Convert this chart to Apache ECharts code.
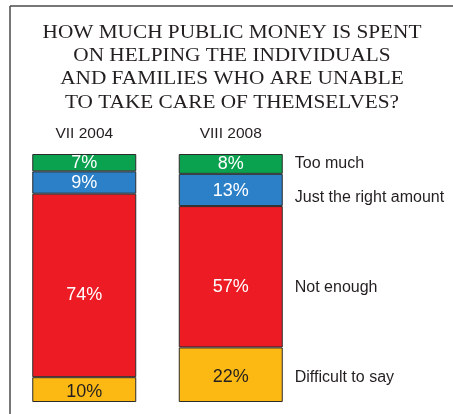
<!DOCTYPE html>
<html>
<head>
<meta charset="utf-8">
<style>
  html, body { margin: 0; padding: 0; background: #fff; }
  #chart { width: 453px; height: 414px; }
</style>
<script src="https://cdn.jsdelivr.net/npm/echarts@6/dist/echarts.min.js"></script>
</head>
<body>
<div id="chart"></div>
<script>
// Survey periods (one stacked bar each)
const periods = ['VII 2004', 'VIII 2008'];

// Answer shares, in percent, bottom to top of each bar
const difficultToSay = [10, 22];
const notEnough      = [74, 57];
const justRight      = [9, 13];
const tooMuch        = [7, 8];

// Answer names shown beside the second bar
const answerNames = ['Difficult to say', 'Not enough', 'Just the right amount', 'Too much'];

const titleLines = [
  'HOW MUCH PUBLIC MONEY IS SPENT',
  'ON HELPING THE INDIVIDUALS',
  'AND FAMILIES WHO ARE UNABLE',
  'TO TAKE CARE OF THEMSELVES?'
];

const INK = '#231f20';
const SANS = '"Liberation Sans", Arial, sans-serif';

function layer(name, data, color, textColor, labelOffset) {
  return {
    name: name,
    type: 'bar',
    stack: 'total',
    barWidth: 104,
    data: data,
    itemStyle: { color: color, borderColor: '#2b2b2b', borderWidth: 1 },
    label: {
      show: true,
      position: 'inside',
      offset: labelOffset,
      formatter: '{c}%',
      color: textColor,
      fontFamily: SANS,
      fontSize: 18
    },
    emphasis: { disabled: true },
    animation: false
  };
}

const series = [
  layer('Difficult to say', difficultToSay, '#fdb913', INK, [0, 2]),
  layer('Not enough', notEnough, '#ed1c24', '#ffffff', [0, 10]),
  layer('Just the right amount', justRight, '#2b80c8', '#ffffff', [0, 1]),
  layer('Too much', tooMuch, '#0aa24f', '#ffffff', [0, 0])
];

const chart = echarts.init(document.getElementById('chart'), null, { renderer: 'canvas' });

chart.setOption({
  animation: false,
  backgroundColor: '#ffffff',
  grid: { left: 11, top: 154, width: 293, height: 248, containLabel: false },
  xAxis: {
    type: 'category',
    data: periods,
    position: 'top',
    axisLine: { show: false },
    axisTick: { show: false },
    axisLabel: { color: INK, fontFamily: SANS, fontSize: 15.5, margin: 12 }
  },
  yAxis: {
    type: 'value',
    min: 0,
    max: 100,
    show: false,
    splitLine: { show: false }
  },
  series: series
});

// Answer names, placed beside each segment of the last bar
const lastPeriod = periods[periods.length - 1];
const layers = [difficultToSay, notEnough, justRight, tooMuch];
const nameOffsets = [3, 11, 8, 0];
let base = 0;
const nameTexts = layers.map(function (vals, i) {
  const v = vals[periods.length - 1];
  const mid = base + v / 2;
  base += v;
  const p = chart.convertToPixel({ xAxisIndex: 0, yAxisIndex: 0 }, [lastPeriod, mid]);
  return {
    type: 'text',
    x: p[0] + 52 + 12,
    y: p[1] + nameOffsets[i],
    style: {
      text: answerNames[i],
      fill: INK,
      font: '16px ' + SANS,
      verticalAlign: 'middle',
      align: 'left'
    }
  };
});

chart.setOption({
  graphic: [
    // frame: top and left rules
    { type: 'line', shape: { x1: 10, y1: 6, x2: 453, y2: 6 }, style: { stroke: '#4a4a4a', lineWidth: 1.5 } },
    { type: 'line', shape: { x1: 10, y1: 6, x2: 10, y2: 414 }, style: { stroke: '#4a4a4a', lineWidth: 1.5 } },
    {
      type: 'text',
      x: 232,
      y: 21,
      scaleX: 1.12,
      style: {
        text: titleLines.join('\n'),
        fill: INK,
        font: '19px "Liberation Serif", "Times New Roman", serif',
        lineHeight: 23.3,
        align: 'center'
      }
    }
  ].concat(nameTexts)
}, { replaceMerge: ['graphic'] });
</script>
</body>
</html>
